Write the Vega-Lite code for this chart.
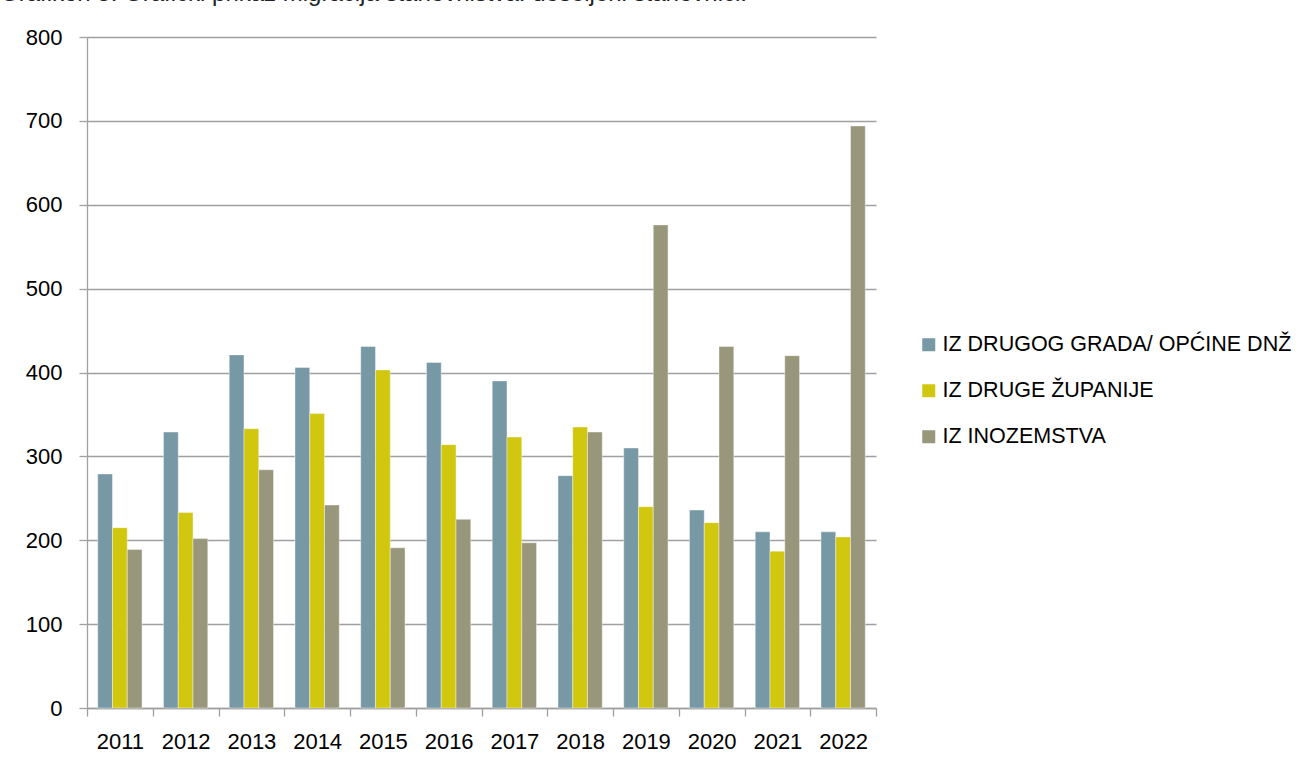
{
  "$schema": "https://vega.github.io/schema/vega-lite/v6.json",
  "autosize": {"type": "none"},
  "width": 789,
  "height": 671,
  "padding": {"left": 87, "top": 37, "right": 431, "bottom": 56},
  "background": "white",
  "title": {
    "text": "Grafikon 5. Grafički prikaz migracija stanovništva: doseljeni stanovnici.",
    "anchor": "start",
    "frame": "group",
    "orient": "top",
    "baseline": "alphabetic",
    "dx": -87,
    "offset": 0,
    "dy": -1.5,
    "font": "Liberation Sans",
    "fontSize": 24,
    "fontWeight": "normal",
    "color": "#222222"
  },
  "data": {
    "values": [
      {"year": "2011", "series": "IZ DRUGOG GRADA/ OPĆINE DNŽ", "value": 279},
      {"year": "2011", "series": "IZ DRUGE ŽUPANIJE", "value": 215},
      {"year": "2011", "series": "IZ INOZEMSTVA", "value": 189},
      {"year": "2012", "series": "IZ DRUGOG GRADA/ OPĆINE DNŽ", "value": 329},
      {"year": "2012", "series": "IZ DRUGE ŽUPANIJE", "value": 233},
      {"year": "2012", "series": "IZ INOZEMSTVA", "value": 202},
      {"year": "2013", "series": "IZ DRUGOG GRADA/ OPĆINE DNŽ", "value": 421},
      {"year": "2013", "series": "IZ DRUGE ŽUPANIJE", "value": 333},
      {"year": "2013", "series": "IZ INOZEMSTVA", "value": 284},
      {"year": "2014", "series": "IZ DRUGOG GRADA/ OPĆINE DNŽ", "value": 406},
      {"year": "2014", "series": "IZ DRUGE ŽUPANIJE", "value": 351},
      {"year": "2014", "series": "IZ INOZEMSTVA", "value": 242},
      {"year": "2015", "series": "IZ DRUGOG GRADA/ OPĆINE DNŽ", "value": 431},
      {"year": "2015", "series": "IZ DRUGE ŽUPANIJE", "value": 403},
      {"year": "2015", "series": "IZ INOZEMSTVA", "value": 191},
      {"year": "2016", "series": "IZ DRUGOG GRADA/ OPĆINE DNŽ", "value": 412},
      {"year": "2016", "series": "IZ DRUGE ŽUPANIJE", "value": 314},
      {"year": "2016", "series": "IZ INOZEMSTVA", "value": 225},
      {"year": "2017", "series": "IZ DRUGOG GRADA/ OPĆINE DNŽ", "value": 390},
      {"year": "2017", "series": "IZ DRUGE ŽUPANIJE", "value": 323},
      {"year": "2017", "series": "IZ INOZEMSTVA", "value": 197},
      {"year": "2018", "series": "IZ DRUGOG GRADA/ OPĆINE DNŽ", "value": 277},
      {"year": "2018", "series": "IZ DRUGE ŽUPANIJE", "value": 335},
      {"year": "2018", "series": "IZ INOZEMSTVA", "value": 329},
      {"year": "2019", "series": "IZ DRUGOG GRADA/ OPĆINE DNŽ", "value": 310},
      {"year": "2019", "series": "IZ DRUGE ŽUPANIJE", "value": 240},
      {"year": "2019", "series": "IZ INOZEMSTVA", "value": 576},
      {"year": "2020", "series": "IZ DRUGOG GRADA/ OPĆINE DNŽ", "value": 236},
      {"year": "2020", "series": "IZ DRUGE ŽUPANIJE", "value": 221},
      {"year": "2020", "series": "IZ INOZEMSTVA", "value": 431},
      {"year": "2021", "series": "IZ DRUGOG GRADA/ OPĆINE DNŽ", "value": 210},
      {"year": "2021", "series": "IZ DRUGE ŽUPANIJE", "value": 187},
      {"year": "2021", "series": "IZ INOZEMSTVA", "value": 420},
      {"year": "2022", "series": "IZ DRUGOG GRADA/ OPĆINE DNŽ", "value": 210},
      {"year": "2022", "series": "IZ DRUGE ŽUPANIJE", "value": 204},
      {"year": "2022", "series": "IZ INOZEMSTVA", "value": 694}
    ]
  },
  "mark": {"type": "bar", "stroke": "#ffffff", "strokeOpacity": 0.5, "strokeWidth": 0.8},
  "encoding": {
    "x": {
      "field": "year",
      "type": "nominal",
      "sort": null,
      "scale": {"paddingInner": 0, "paddingOuter": 0},
      "axis": {
        "title": null,
        "labelAngle": 0,
        "tickBand": "extent",
        "tickSize": 8,
        "tickColor": "#a0a0a0",
        "tickWidth": 1.3,
        "domainColor": "#a0a0a0",
        "domainWidth": 1.3,
        "labelPadding": 15,
        "labelFont": "Liberation Sans",
        "labelFontSize": 22,
        "labelColor": "#000000",
        "grid": false
      }
    },
    "xOffset": {
      "field": "series",
      "type": "nominal",
      "sort": ["IZ DRUGOG GRADA/ OPĆINE DNŽ", "IZ DRUGE ŽUPANIJE", "IZ INOZEMSTVA"],
      "scale": {"paddingInner": 0, "paddingOuter": 0.726}
    },
    "y": {
      "field": "value",
      "type": "quantitative",
      "scale": {"domain": [0, 800], "nice": false},
      "axis": {
        "title": null,
        "values": [0, 100, 200, 300, 400, 500, 600, 700, 800],
        "tickSize": 8,
        "tickColor": "#a0a0a0",
        "tickWidth": 1.3,
        "domainColor": "#a0a0a0",
        "domainWidth": 1.3,
        "gridColor": "#a0a0a0",
        "gridWidth": 1.3,
        "labelPadding": 17,
        "labelFont": "Liberation Sans",
        "labelFontSize": 22,
        "labelColor": "#000000"
      }
    },
    "color": {
      "field": "series",
      "type": "nominal",
      "sort": ["IZ DRUGOG GRADA/ OPĆINE DNŽ", "IZ DRUGE ŽUPANIJE", "IZ INOZEMSTVA"],
      "scale": {
        "domain": ["IZ DRUGOG GRADA/ OPĆINE DNŽ", "IZ DRUGE ŽUPANIJE", "IZ INOZEMSTVA"],
        "range": ["#7799A5", "#D0C70E", "#99977B"]
      },
      "legend": {
        "title": null,
        "orient": "none",
        "legendX": 831,
        "legendY": 297,
        "symbolType": "square",
        "symbolSize": 169,
        "symbolStrokeWidth": 0,
        "labelFont": "Liberation Sans",
        "labelFontSize": 21.5,
        "labelColor": "#000000",
        "labelOffset": 3,
        "rowPadding": 23,
        "labelLimit": 500
      }
    }
  },
  "config": {
    "view": {"stroke": null}
  }
}
